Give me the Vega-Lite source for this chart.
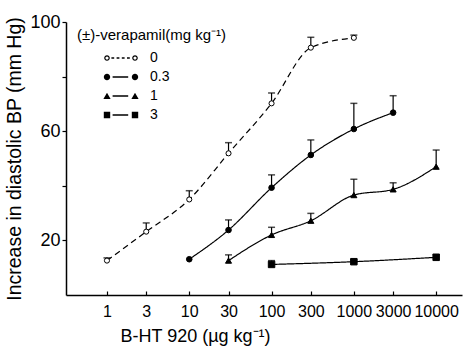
{
  "$schema": "https://vega.github.io/schema/vega-lite/v6.json",
  "width": 396,
  "height": 273,
  "autosize": "none",
  "padding": {"left": 66, "top": 22, "right": 8, "bottom": 53},
  "background": "white",
  "config": {
    "view": {"stroke": null},
    "font": "Liberation Sans",
    "axis": {
      "grid": false,
      "domainColor": "black",
      "domainWidth": 1.5,
      "tickColor": "black",
      "tickWidth": 1.2,
      "labelColor": "black",
      "titleColor": "black",
      "labelFont": "Liberation Sans",
      "titleFont": "Liberation Sans",
      "titleFontWeight": "normal"
    }
  },
  "data": {
    "values": [
      {"dose": "0", "x": 1, "y": 12.6, "hi": 13.6},
      {"dose": "0", "x": 3, "y": 23.2, "hi": 26.4},
      {"dose": "0", "x": 10, "y": 35, "hi": 38.2},
      {"dose": "0", "x": 30, "y": 51.9, "hi": 55.8},
      {"dose": "0", "x": 100, "y": 70.2, "hi": 74},
      {"dose": "0", "x": 300, "y": 90.6, "hi": 94.4},
      {"dose": "0", "x": 1000, "y": 94.2, "hi": 95.2},
      {"dose": "0.3", "x": 10, "y": 13.1, "hi": null},
      {"dose": "0.3", "x": 30, "y": 23.8, "hi": 27.5},
      {"dose": "0.3", "x": 100, "y": 39.3, "hi": 44},
      {"dose": "0.3", "x": 300, "y": 51.3, "hi": 56.8},
      {"dose": "0.3", "x": 1000, "y": 60.8, "hi": 70.2},
      {"dose": "0.3", "x": 3000, "y": 66.8, "hi": 73},
      {"dose": "1", "x": 30, "y": 12.6, "hi": 14.7},
      {"dose": "1", "x": 100, "y": 22, "hi": 24.8},
      {"dose": "1", "x": 300, "y": 27.2, "hi": 29.9},
      {"dose": "1", "x": 1000, "y": 36.6, "hi": 42.4},
      {"dose": "1", "x": 3000, "y": 38.7, "hi": 41.1},
      {"dose": "1", "x": 10000, "y": 47, "hi": 53.1},
      {"dose": "3", "x": 100, "y": 11.2, "hi": 12.6},
      {"dose": "3", "x": 1000, "y": 12.2, "hi": 12.9},
      {"dose": "3", "x": 10000, "y": 13.8, "hi": 14.8}
    ]
  },
  "encoding": {
    "x": {
      "field": "x",
      "type": "quantitative",
      "scale": {"type": "log", "domain": [0.318, 20600], "nice": false},
      "axis": {
        "values": [1, 3, 10, 30, 100, 300, 1000, 3000, 10000],
        "format": "d",
        "title": "B-HT 920 (µg kg⁻¹)",
        "titleFontSize": 18,
        "titleAnchor": "start",
        "titleX": 54,
        "titlePadding": 8,
        "labelFontSize": 16,
        "labelPadding": 12,
        "tickSize": -4,
        "labelOverlap": false,
        "labelFlush": false
      }
    }
  },
  "layer": [
    {
      "mark": {"type": "line", "interpolate": "monotone", "color": "black", "strokeWidth": 1.2},
      "encoding": {
        "y": {
          "field": "y",
          "type": "quantitative",
          "scale": {"domain": [0, 100], "nice": false},
          "axis": {
            "values": [20, 40, 60, 80, 100],
            "labelExpr": "datum.value % 40 == 20 ? datum.label : ''",
            "title": "Increase in diastolic BP (mm Hg)",
            "titleFontSize": 19.5,
            "titlePadding": 5,
            "labelFontSize": 18,
            "labelPadding": 2,
            "tickSize": 4
          }
        },
        "detail": {"field": "dose", "type": "nominal"},
        "strokeDash": {
          "field": "dose",
          "type": "nominal",
          "scale": {"domain": ["0", "0.3", "1", "3"], "range": [[6, 4], [1, 0], [1, 0], [1, 0]]},
          "legend": null
        }
      }
    },
    {
      "transform": [{"filter": "datum.hi != null"}],
      "mark": {"type": "rule", "color": "black", "strokeWidth": 1.2},
      "encoding": {
        "y": {"field": "y", "type": "quantitative"},
        "y2": {"field": "hi"}
      }
    },
    {
      "transform": [{"filter": "datum.hi != null"}],
      "mark": {"type": "tick", "orient": "horizontal", "color": "black", "size": 7, "thickness": 1.5},
      "encoding": {
        "y": {"field": "hi", "type": "quantitative"}
      }
    },
    {
      "mark": {"type": "point", "filled": true, "stroke": "black", "strokeWidth": 1, "opacity": 1},
      "encoding": {
        "y": {"field": "y", "type": "quantitative"},
        "shape": {
          "field": "dose",
          "type": "nominal",
          "scale": {"domain": ["0", "0.3", "1", "3"], "range": ["circle", "circle", "triangle-up", "square"]},
          "legend": null
        },
        "fill": {
          "field": "dose",
          "type": "nominal",
          "scale": {"domain": ["0", "0.3", "1", "3"], "range": ["white", "black", "black", "black"]},
          "legend": null
        },
        "size": {
          "field": "dose",
          "type": "nominal",
          "scale": {"domain": ["0", "0.3", "1", "3"], "range": [26, 42, 55, 42]},
          "legend": null
        }
      }
    },
    {
      "mark": {"type": "point", "filled": true, "color": "black", "strokeWidth": 0, "opacity": 0},
      "encoding": {
        "y": {"field": "y", "type": "quantitative"},
        "shape": {
          "field": "dose",
          "type": "nominal",
          "scale": {
            "domain": ["0", "0.3", "1", "3"],
            "range": [
              "M-2.1,0a0.35,0.35 0 1,1 0.7,0a0.35,0.35 0 1,1 -0.7,0Z M-1.95,0a0.2,0.2 0 1,0 0.4,0a0.2,0.2 0 1,0 -0.4,0Z M1.4,0a0.35,0.35 0 1,1 0.7,0a0.35,0.35 0 1,1 -0.7,0Z M1.55,0a0.2,0.2 0 1,0 0.4,0a0.2,0.2 0 1,0 -0.4,0Z M-1.2,-0.08h0.35v0.16h-0.35Z M-0.55,-0.08h0.35v0.16h-0.35Z M0.1,-0.08h0.35v0.16h-0.35Z M0.75,-0.08h0.35v0.16h-0.35Z",
              "M-2.15,0a0.4,0.4 0 1,1 0.8,0a0.4,0.4 0 1,1 -0.8,0Z M1.35,0a0.4,0.4 0 1,1 0.8,0a0.4,0.4 0 1,1 -0.8,0Z M-1.05,-0.08h1.95v0.16h-1.95Z",
              "M-2.2,0.38L-1.3,0.38L-1.75,-0.42Z M1.3,0.38L2.2,0.38L1.75,-0.42Z M-1.05,-0.08h1.95v0.16h-1.95Z",
              "M-2.15,-0.4h0.8v0.8h-0.8Z M1.35,-0.4h0.8v0.8h-0.8Z M-1.05,-0.08h1.95v0.16h-1.95Z"
            ]
          },
          "legend": {
            "orient": "none",
            "legendX": 11,
            "legendY": 6,
            "title": "(±)-verapamil(mg kg⁻¹)",
            "titleFontSize": 15,
            "titleFont": "Liberation Sans",
            "titleFontWeight": "normal",
            "titleColor": "black",
            "titlePadding": 7,
            "labelFontSize": 14,
            "labelFont": "Liberation Sans",
            "labelColor": "black",
            "symbolSize": 256,
            "symbolOffset": 36,
            "labelOffset": 21,
            "rowPadding": 4,
            "symbolFillColor": "black",
            "symbolStrokeColor": "transparent",
            "symbolStrokeWidth": 0,
            "symbolOpacity": 1,
            "padding": 0
          }
        }
      }
    }
  ],
  "resolve": {"scale": {"shape": "independent", "fill": "independent", "size": "independent", "strokeDash": "independent"}}
}
